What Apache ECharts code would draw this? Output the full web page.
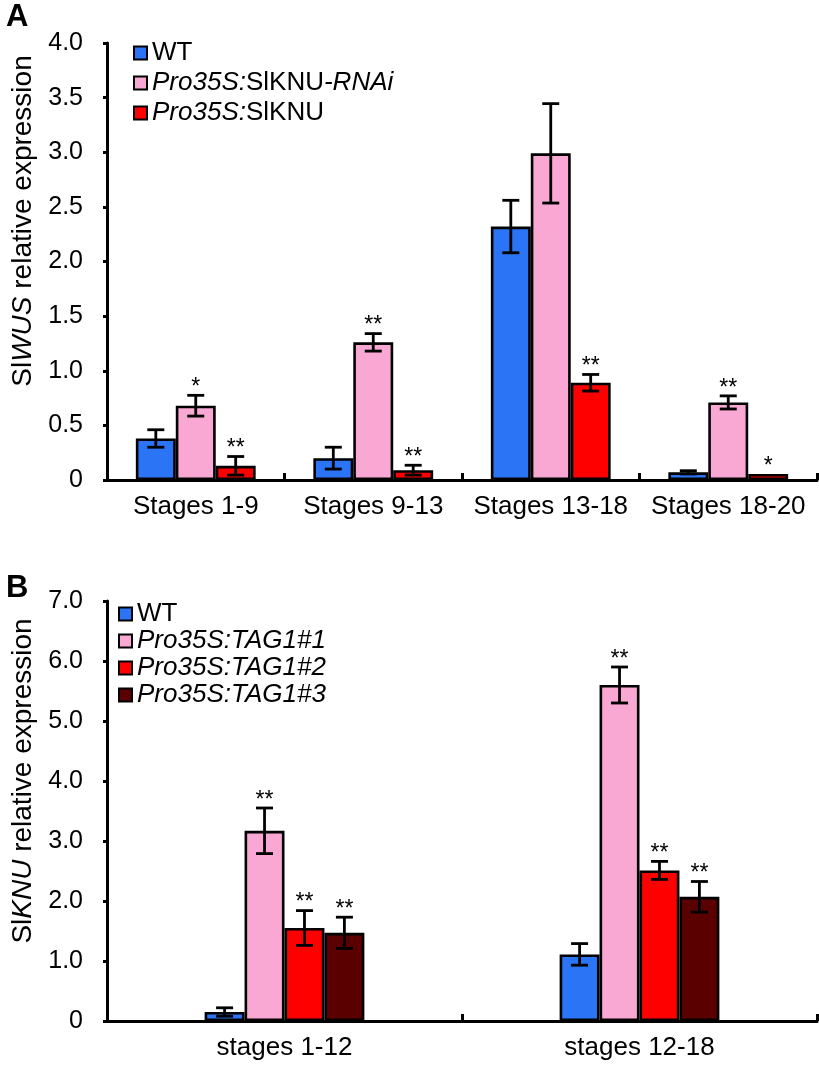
<!DOCTYPE html>
<html>
<head>
<meta charset="utf-8">
<script src="https://cdn.jsdelivr.net/npm/echarts@6/dist/echarts.min.js"></script>
<style>
html,body{margin:0;padding:0;background:#fff;}
#chart{width:819px;height:1068px;}
</style>
</head>
<body>
<div id="chart"></div>
<script>
// ---------- Panel A data ----------
const catsA = ['Stages 1-9', 'Stages 9-13', 'Stages 13-18', 'Stages 18-20'];
const namesA = ['WT', 'Pro35S:SlKNU-RNAi', 'Pro35S:SlKNU'];
const wtA = [0.38, 0.20, 2.32, 0.07];
const rnaiA = [0.68, 1.26, 2.99, 0.71];
const oeA = [0.13, 0.09, 0.89, 0.055];
const wtAErr = [0.08, 0.10, 0.24, 0.015];
const rnaiAErr = [0.095, 0.08, 0.455, 0.06];
const oeAErr = [0.085, 0.045, 0.076, 0];
const wtAStar = ['', '', '', ''];
const rnaiAStar = ['*', '**', '', '**'];
const oeAStar = ['**', '**', '**', '*'];
const yTicksA = { min: 0, max: 4, interval: 0.5 };

// ---------- Panel B data ----------
const catsB = ['stages 1-12', 'stages 12-18'];
const namesB = ['WT', 'Pro35S:TAG1#1', 'Pro35S:TAG1#2', 'Pro35S:TAG1#3'];
const wtB = [0.15, 1.11];
const tag1B = [3.17, 5.60];
const tag2B = [1.55, 2.51];
const tag3B = [1.47, 2.07];
const wtBErr = [0.07, 0.18];
const tag1BErr = [0.38, 0.30];
const tag2BErr = [0.29, 0.15];
const tag3BErr = [0.26, 0.255];
const wtBStar = ['', ''];
const tag1BStar = ['**', '**'];
const tag2BStar = ['**', '**'];
const tag3BStar = ['**', '**'];
const yTicksB = { min: 0, max: 7, interval: 1 };

// ---------- styles ----------
const FONT = '"Liberation Sans", Arial, Helvetica, sans-serif';
const colors = { wt: '#2b74f6', pink: '#f8a8d3', red: '#fe0000', dark: '#5b0000' };
const BAR_FRAC_A = 0.225;
const BAR_FRAC_B = 0.1125;

function barSeries(name, data, color, xi, frac) {
  return {
    name: name, type: 'bar', xAxisIndex: xi, yAxisIndex: xi,
    data: data, barWidth: (frac * 100) + '%', barGap: '0%',
    itemStyle: { color: color, borderColor: '#000', borderWidth: 2.6 },
    emphasis: { disabled: true }, z: 2
  };
}

function errSeries(vals, errs, stars, xi, k, n, frac) {
  return {
    type: 'custom', xAxisIndex: xi, yAxisIndex: xi, z: 10, silent: true,
    data: vals.map((v, i) => [i, v, errs[i]]),
    renderItem: function (params, api) {
      const ci = api.value(0), v = api.value(1), e = api.value(2);
      const star = stars[params.dataIndex];
      const bw = api.size([1, 0])[0] * frac;
      const cx = api.coord([ci, v])[0] + (k - (n - 1) / 2) * bw;
      const yTop = api.coord([ci, v + e])[1];
      const yBot = api.coord([ci, v - e])[1];
      const yVal = api.coord([ci, v])[1];
      const cap = 8.5;
      const ls = { stroke: '#000', lineWidth: 2.8 };
      const children = [];
      if (e > 0) {
        children.push({ type: 'line', shape: { x1: cx, y1: yTop, x2: cx, y2: yBot }, style: ls });
        children.push({ type: 'line', shape: { x1: cx - cap, y1: yTop, x2: cx + cap, y2: yTop }, style: ls });
        children.push({ type: 'line', shape: { x1: cx - cap, y1: yBot, x2: cx + cap, y2: yBot }, style: ls });
      }
      if (star) {
        const base = e > 0 ? yTop : yVal;
        children.push({
          type: 'text', x: cx, y: base + 4,
          style: { text: star, fill: '#000', font: '23px ' + FONT, align: 'center', verticalAlign: 'bottom' }
        });
      }
      return { type: 'group', children: children };
    }
  };
}

const richLegend = {
  i: { fontStyle: 'italic', fontSize: 26, fontFamily: FONT, color: '#000', lineHeight: 28 },
  n: { fontStyle: 'normal', fontSize: 26, fontFamily: FONT, color: '#000', lineHeight: 28 }
};
function legendFmt(name) {
  if (name === 'WT') return '{n|WT}';
  if (name === 'Pro35S:SlKNU-RNAi') return '{i|Pro35S:}{n|SlKNU}{i|-RNAi}';
  if (name === 'Pro35S:SlKNU') return '{i|Pro35S:}{n|SlKNU}';
  return '{i|' + name + '}';
}

function xAxisCfg(cats, gi) {
  return {
    type: 'category', gridIndex: gi, data: cats, boundaryGap: true,
    axisLine: { lineStyle: { color: '#000', width: 3 } },
    axisTick: { show: true, inside: true, length: 7, interval: 0, lineStyle: { color: '#000', width: 3 } },
    axisLabel: { color: '#000', fontSize: 26, fontFamily: FONT, margin: 14, interval: 0 },
    splitLine: { show: false }
  };
}
function yAxisCfg(t, gi) {
  return {
    type: 'value', gridIndex: gi, min: t.min, max: t.max, interval: t.interval,
    axisLine: { show: true, lineStyle: { color: '#000', width: 3 } },
    axisTick: { show: true, inside: false, length: 4, lineStyle: { color: '#000', width: 3 } },
    axisLabel: { color: '#000', fontSize: 25, fontFamily: FONT, margin: 24,
      formatter: v => (v === 0 ? '0' : v.toFixed(1)) },
    splitLine: { show: false }
  };
}

const option = {
  animation: false,
  backgroundColor: '#fff',
  textStyle: { fontFamily: FONT },
  grid: [
    { left: 107, right: 2, top: 43, height: 437 },
    { left: 107, right: 2, top: 601, height: 420 }
  ],
  xAxis: [xAxisCfg(catsA, 0), xAxisCfg(catsB, 1)],
  yAxis: [yAxisCfg(yTicksA, 0), yAxisCfg(yTicksB, 1)],
  legend: [
    { data: namesA, orient: 'vertical', left: 128, top: 35, icon: 'rect', itemWidth: 13, itemHeight: 13,
      itemGap: 4, selectedMode: false, formatter: legendFmt,
      textStyle: { fontSize: 26, color: '#000', rich: richLegend } },
    { data: namesB, orient: 'vertical', left: 113, top: 596, icon: 'rect', itemWidth: 13, itemHeight: 13,
      itemGap: 1, selectedMode: false, formatter: legendFmt,
      textStyle: { fontSize: 26, color: '#000', rich: richLegend } }
  ],
  graphic: [
    { type: 'text', x: 6, y: 2, style: { text: 'A', font: 'bold 31px ' + FONT, fill: '#000' } },
    { type: 'text', x: 6, y: 573, style: { text: 'B', font: 'bold 31px ' + FONT, fill: '#000' } },
    { type: 'text', x: 23, y: 221, rotation: Math.PI / 2,
      style: { text: '{n|Sl}{i|WUS}{n| relative expression}', align: 'center', verticalAlign: 'middle',
        rich: { n: { fontSize: 28, fontFamily: FONT, fill: '#000' }, i: { fontSize: 28, fontFamily: FONT, fontStyle: 'italic', fill: '#000' } } } },
    { type: 'text', x: 23, y: 781, rotation: Math.PI / 2,
      style: { text: '{n|Sl}{i|KNU}{n| relative expression}', align: 'center', verticalAlign: 'middle',
        rich: { n: { fontSize: 28, fontFamily: FONT, fill: '#000' }, i: { fontSize: 28, fontFamily: FONT, fontStyle: 'italic', fill: '#000' } } } }
  ],
  series: [
    barSeries(namesA[0], wtA, colors.wt, 0, BAR_FRAC_A),
    barSeries(namesA[1], rnaiA, colors.pink, 0, BAR_FRAC_A),
    barSeries(namesA[2], oeA, colors.red, 0, BAR_FRAC_A),
    errSeries(wtA, wtAErr, wtAStar, 0, 0, 3, BAR_FRAC_A),
    errSeries(rnaiA, rnaiAErr, rnaiAStar, 0, 1, 3, BAR_FRAC_A),
    errSeries(oeA, oeAErr, oeAStar, 0, 2, 3, BAR_FRAC_A),
    barSeries(namesB[0], wtB, colors.wt, 1, BAR_FRAC_B),
    barSeries(namesB[1], tag1B, colors.pink, 1, BAR_FRAC_B),
    barSeries(namesB[2], tag2B, colors.red, 1, BAR_FRAC_B),
    barSeries(namesB[3], tag3B, colors.dark, 1, BAR_FRAC_B),
    errSeries(wtB, wtBErr, wtBStar, 1, 0, 4, BAR_FRAC_B),
    errSeries(tag1B, tag1BErr, tag1BStar, 1, 1, 4, BAR_FRAC_B),
    errSeries(tag2B, tag2BErr, tag2BStar, 1, 2, 4, BAR_FRAC_B),
    errSeries(tag3B, tag3BErr, tag3BStar, 1, 3, 4, BAR_FRAC_B)
  ]
};

const chart = echarts.init(document.getElementById('chart'), null, { renderer: 'canvas' });
chart.setOption(option);
</script>
</body>
</html>
